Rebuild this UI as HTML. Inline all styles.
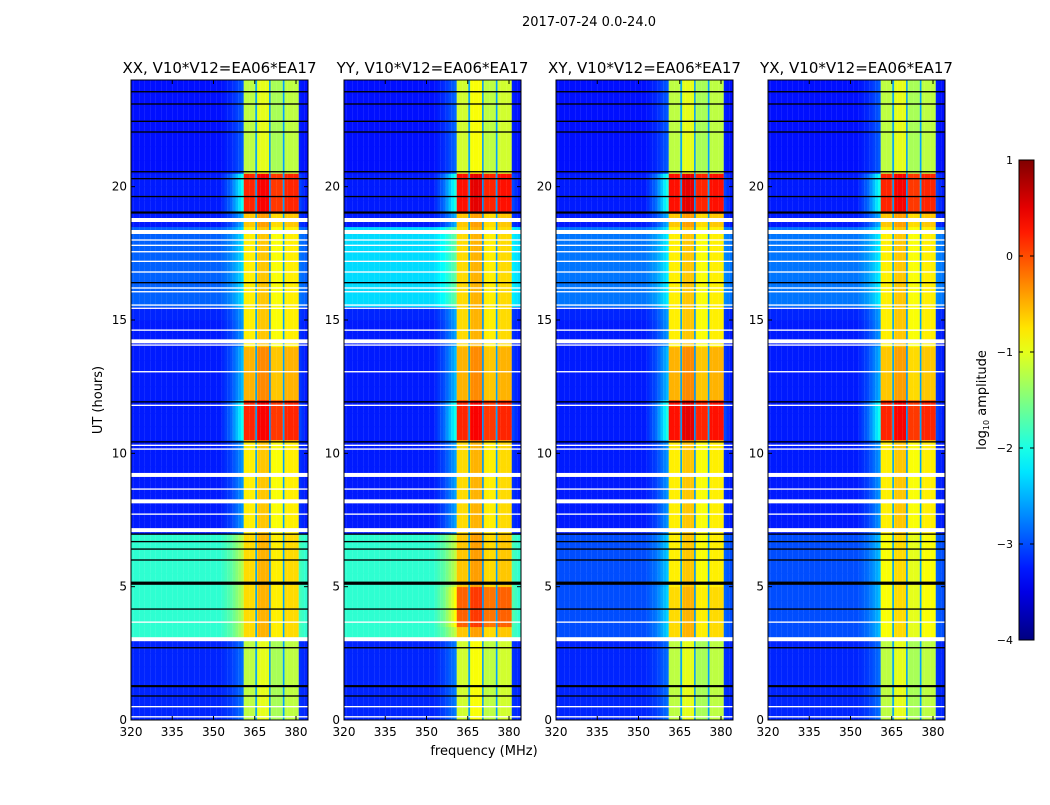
<!DOCTYPE html>
<html><head><meta charset="utf-8"><style>
body{margin:0;background:#fff;font-family:"Liberation Sans","DejaVu Sans",sans-serif;}
svg text{font-family:"DejaVu Sans","Liberation Sans",sans-serif;}
</style></head><body>
<svg id="fig" width="1050" height="800" xmlns="http://www.w3.org/2000/svg">
<rect width="1050" height="800" fill="#fff"/>
<defs>
<linearGradient id="jet" x1="0" y1="1" x2="0" y2="0"></linearGradient>
</defs>
<text x="589" y="26" font-size="13" text-anchor="middle">2017-07-24 0.0-24.0</text>
<text x="484" y="755" font-size="13" text-anchor="middle">frequency (MHz)</text>
<text x="102" y="400" font-size="13" text-anchor="middle" transform="rotate(-90 102 400)">UT (hours)</text>
<g id="panels"></g>
<g id="cbar">
<rect x="1019" y="160" width="15" height="480" fill="url(#jet)" stroke="#000" stroke-width="1"/>
<text x="986" y="400" font-size="13" text-anchor="middle" transform="rotate(-90 986 400)">log<tspan font-size="8" dy="3">10</tspan><tspan dy="-3"> amplitude</tspan></text>
</g>
</svg>
<script>
const NS="http://www.w3.org/2000/svg";
const panelTitles=["XX, V10*V12=EA06*EA17","YY, V10*V12=EA06*EA17","XY, V10*V12=EA06*EA17","YX, V10*V12=EA06*EA17"];
const xTicks=[320,335,350,365,380];
const yTicks=[0,5,10,15,20];
const cbTicks=[1,0,-1,-2,-3,-4];
// frequency bins 320..384 MHz (1 MHz each): null = background column
const bandOffset=[null,null,null,null,null,null,null,null,null,null,null,null,null,null,null,null,null,null,null,null,null,null,null,null,null,null,null,null,null,null,null,null,null,null,null,null,null,null,null,null,null,-0.2,-0.2,-0.2,-0.2,-0.3,0,0,0,0,0,-0.3,-0.3,-0.3,-0.3,-0.3,-0.2,-0.2,-0.2,-0.2,-0.2,null,null,null,null];
const rampAdd=[0,0,0,0,0,0,0,0,0,0,0,0,0,0,0,0,0,0,0,0,0,0,0,0,0,0,0,0,0,0,0,0,0,0.05,0.1,0.15,0.2,0.3,0.4,0.5,0.6,0,0,0,0,0,0,0,0,0,0,0,0,0,0,0,0,0,0,0,0,0.1,0.05,0,0];
// time bins, 0.5 h each, 0..24 h: band level and background level per panel
const bandXX=[-1,-1,-1,-1,-1,-1,-0.5,-0.5,-0.5,-0.5,-0.5,-0.5,-0.5,-0.5,-0.6,-0.6,-0.6,-0.6,-0.6,-0.6,-0.6,0.4,0.4,0.4,-0.3,-0.3,-0.3,-0.3,-0.6,-0.6,-0.6,-0.6,-0.6,-0.6,-0.6,-0.6,-0.6,-0.4,0.4,0.4,0.4,-1,-1,-1,-1,-1,-1,-1];
const bandYY=[-0.9,-0.9,-0.9,-0.9,-0.9,-0.9,-0.4,0.1,0.1,0.1,-0.4,-0.4,-0.4,-0.4,-0.5,-0.5,-0.5,-0.5,-0.5,-0.5,-0.5,0.4,0.4,0.4,-0.3,-0.3,-0.3,-0.3,-0.5,-0.5,-0.5,-0.5,-0.5,-0.5,-0.5,-0.5,-0.5,-0.4,0.5,0.5,0.5,-0.9,-0.9,-0.9,-0.9,-0.9,-0.9,-0.9];
const bandXY=[-1,-1,-1,-1,-1,-1,-0.5,-0.5,-0.5,-0.5,-0.6,-0.6,-0.6,-0.6,-0.6,-0.6,-0.6,-0.6,-0.6,-0.6,-0.6,0.5,0.5,0.5,-0.3,-0.3,-0.3,-0.3,-0.6,-0.6,-0.6,-0.6,-0.6,-0.6,-0.6,-0.6,-0.6,-0.4,0.5,0.5,0.5,-1,-1,-1,-1,-1,-1,-1];
const bandYX=[-1,-1,-1,-1,-1,-1,-0.7,-0.7,-0.7,-0.7,-0.7,-0.7,-0.7,-0.7,-0.6,-0.6,-0.6,-0.6,-0.6,-0.6,-0.6,0.4,0.4,0.4,-0.4,-0.4,-0.4,-0.4,-0.6,-0.6,-0.6,-0.6,-0.6,-0.6,-0.6,-0.6,-0.6,-0.4,0.4,0.4,0.4,-1,-1,-1,-1,-1,-1,-1];
const bgXX=[-3.2,-3.2,-3.2,-3.2,-3.2,-3.2,-1.9,-1.9,-1.9,-1.9,-1.9,-1.9,-1.9,-1.9,-3.25,-3.25,-3.25,-3.25,-3.25,-3.25,-3.25,-3.25,-3.25,-3.25,-3.25,-3.25,-3.25,-3.25,-3.25,-3.25,-3.2,-2.9,-2.9,-2.9,-2.9,-2.9,-2.9,-3.25,-3.25,-3.25,-3.25,-3.3,-3.3,-3.3,-3.3,-3.3,-3.3,-3.3];
const bgYY=[-3.2,-3.2,-3.2,-3.2,-3.2,-3.2,-1.9,-1.9,-1.9,-1.9,-1.9,-1.9,-1.9,-1.9,-3.25,-3.25,-3.25,-3.25,-3.25,-3.25,-3.25,-3.25,-3.25,-3.25,-3.25,-3.25,-3.25,-3.25,-3.25,-3.25,-3.2,-2.3,-2.3,-2.3,-2.3,-2.3,-2.3,-3.25,-3.25,-3.25,-3.25,-3.3,-3.3,-3.3,-3.3,-3.3,-3.3,-3.3];
const bgXY=[-3.2,-3.2,-3.2,-3.2,-3.2,-3.2,-3.0,-3.0,-3.0,-3.0,-3.0,-3.0,-3.0,-3.0,-3.25,-3.25,-3.25,-3.25,-3.25,-3.25,-3.25,-3.25,-3.25,-3.25,-3.25,-3.25,-3.25,-3.25,-3.25,-3.25,-3.2,-2.8,-2.8,-2.8,-2.8,-2.8,-2.8,-3.25,-3.25,-3.25,-3.25,-3.3,-3.3,-3.3,-3.3,-3.3,-3.3,-3.3];
const bgYX=bgXY;
const flagWhite=[[18.75,0.15],[18.3,0.15],[18.0,0.05],[17.8,0.05],[17.56,0.05],[17.2,0.05],[16.8,0.05],[16.2,0.05],[16.06,0.05],[15.56,0.05],[15.44,0.05],[14.62,0.05],[14.2,0.15],[14.06,0.05],[13.06,0.05],[11.8,0.05],[10.3,0.05],[10.16,0.05],[9.19,0.15],[8.66,0.05],[8.2,0.15],[7.72,0.05],[7.12,0.15],[3.67,0.05],[3.03,0.15],[0.5,0.05],[0.12,0.05]];
const flagBlack=[[23.56,0.05],[23.1,0.05],[22.45,0.05],[22.05,0.05],[20.56,0.05],[20.3,0.05],[19.63,0.05],[19.03,0.08],[16.4,0.05],[11.93,0.05],[10.43,0.05],[6.97,0.05],[6.69,0.05],[6.41,0.05],[6.0,0.05],[5.13,0.12],[4.16,0.05],[2.71,0.05],[1.27,0.08],[0.9,0.05]];
const bandLines=[365.5,370.5,375.5];
const panelX=[131,344,556,768];
const bands=[bandXX,bandYY,bandXY,bandYX];
const bgs=[bgXX,bgYY,bgXY,bgYX];
const PW=177,PT=80,PB=720;
function xs(x0,f){return x0+(f-320)*2.75;}
function ys(h){return PB-(h/24)*(PB-PT);}
function cy(v){return 640-(v+4)*96;}
function jet(v){let t=(v+4)/5;t=Math.max(0,Math.min(1,t));
 const r=Math.max(0,Math.min(1,1.5-Math.abs(4*t-3))),g=Math.max(0,Math.min(1,1.5-Math.abs(4*t-2))),b=Math.max(0,Math.min(1,1.5-Math.abs(4*t-1)));
 return `rgb(${Math.round(r*255)},${Math.round(g*255)},${Math.round(b*255)})`;}
function mk(tag,attrs,parent){const e=document.createElementNS(NS,tag);for(const k in attrs)e.setAttribute(k,attrs[k]);parent.appendChild(e);return e;}
const grad=document.getElementById('jet');
for(let k=0;k<=20;k++){mk('stop',{offset:k/20,'stop-color':jet(-4+k*5/20)},grad);}
const root=document.getElementById('panels');
for(let p=0;p<4;p++){
 const x0=panelX[p];
 const g=mk('g',{},root);
 
 
 const cp=mk('clipPath',{id:'cp'+p},g);mk('rect',{x:x0,y:PT,width:PW,height:PB-PT},cp);
 const hm=mk('g',{'clip-path':'url(#cp'+p+')'},g);
 
 
 for(let t=0;t<bands[p].length;t++){
  for(let i=0;i<bandOffset.length;i++){
   const v=bandOffset[i]===null?bgs[p][t]+rampAdd[i]*(0.6+Math.max(0,(bands[p][t]+1))):bands[p][t]+bandOffset[i];
   const r=mk('rect',{x:xs(x0,320+i),y:ys((t+1)*0.5),width:2.85,height:(PB-PT)/48+0.4,fill:jet(v)},hm);
   
   
  }
 }
 for(const f of bandLines){const l=mk('rect',{x:xs(x0,f)-0.8,y:PT,width:1.6,height:PB-PT,fill:jet(-2.6)},hm);
  
  }
 for(const [h,w] of flagWhite){const l=mk('rect',{x:x0,y:ys(h+w/2),width:PW,height:Math.max(1.2,w*26.67),fill:'#fff'},hm);
  
  }
 for(const [h,w] of flagBlack){const l=mk('rect',{x:x0,y:ys(h+w/2),width:PW,height:Math.max(1.2,w*26.67),fill:'#000'},hm);
  
  }
 const fr=mk('rect',{x:x0,y:PT,width:PW,height:PB-PT,fill:'none',stroke:'#000','stroke-width':1},g);
 
 
 const tt=mk('text',{x:x0+PW/2,y:73,'font-size':15,'text-anchor':'middle'},g);tt.textContent=panelTitles[p];
 
 
 for(const f of xTicks){const x=xs(x0,f);
  mk('line',{x1:x,x2:x,y1:PB,y2:PB-4,stroke:'#000'},g);mk('line',{x1:x,x2:x,y1:PT,y2:PT+4,stroke:'#000'},g);
  const t=mk('text',{x:x,y:PB+16,'font-size':12,'text-anchor':'middle'},g);t.textContent=f;
  
  }
 for(const h of yTicks){const y=ys(h);
  mk('line',{x1:x0,x2:x0+4,y1:y,y2:y,stroke:'#000'},g);mk('line',{x1:x0+PW,x2:x0+PW-4,y1:y,y2:y,stroke:'#000'},g);
  const t=mk('text',{x:x0-4,y:y+4,'font-size':12,'text-anchor':'end'},g);t.textContent=h;
  
  }
}
const cb=document.getElementById('cbar');
for(const v of cbTicks){const y=cy(v);
 mk('line',{x1:1019,x2:1023,y1:y,y2:y,stroke:'#000'},cb);mk('line',{x1:1034,x2:1030,y1:y,y2:y,stroke:'#000'},cb);
 const t=mk('text',{x:1013,y:y+4,'font-size':11,'text-anchor':'end'},cb);t.textContent=v<0?'\u2212'+(-v):String(v);
 
 }
</script>
</body></html>
